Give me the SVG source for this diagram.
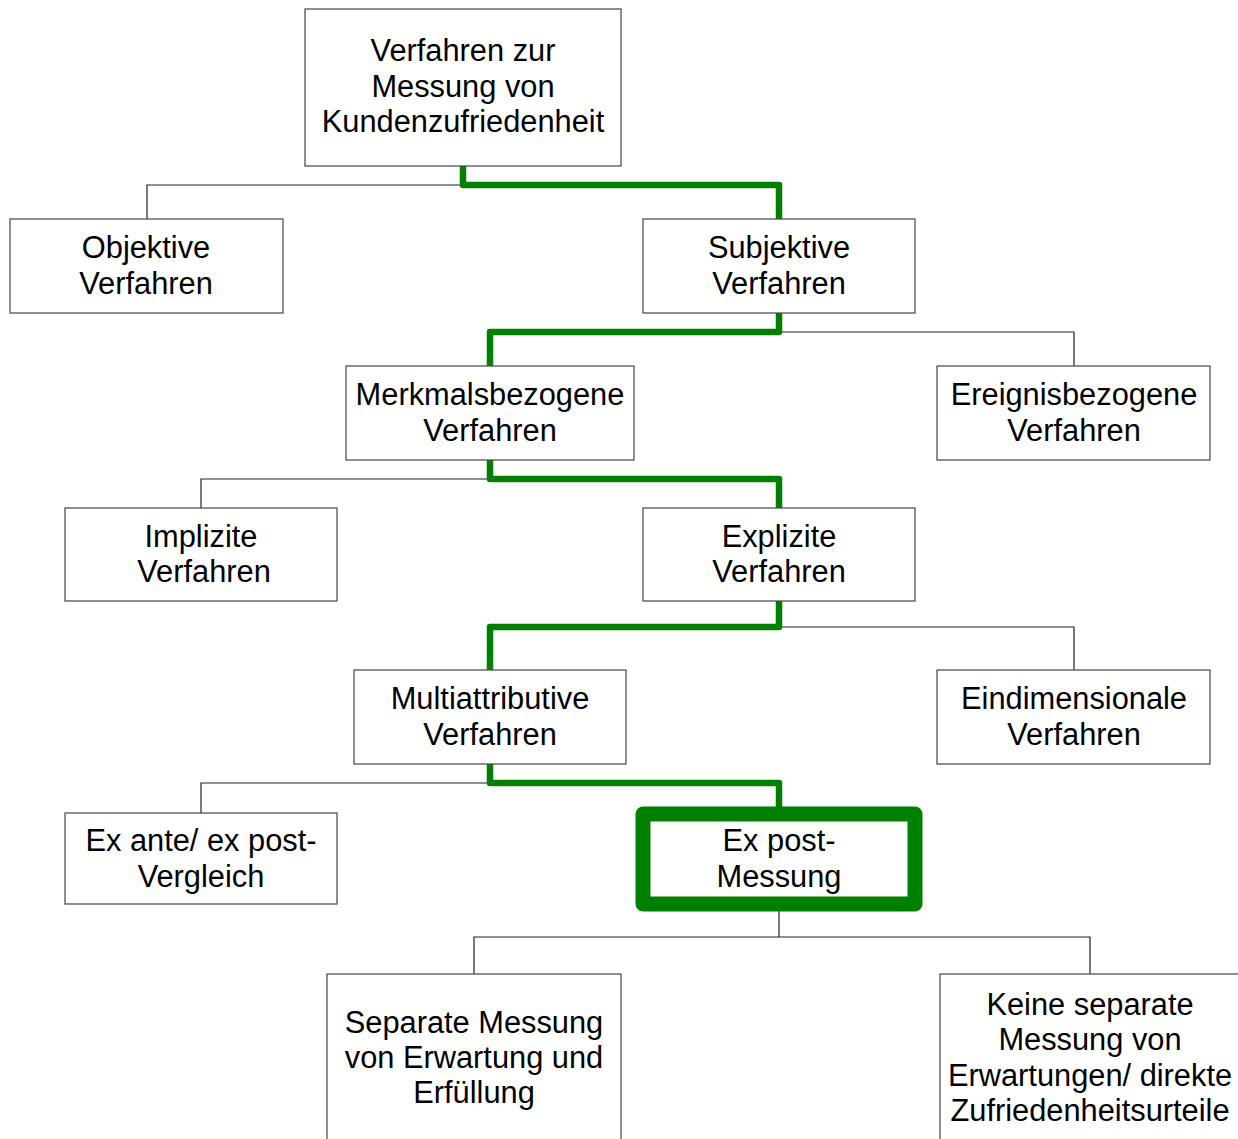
<svg xmlns="http://www.w3.org/2000/svg" width="1238" height="1139" viewBox="0 0 1238 1139">
<style>
.box{fill:#fff;stroke:#444;stroke-width:1.2}
.hl{fill:#fff;stroke:#008000;stroke-width:15;stroke-linejoin:round}
text{font-family:"Liberation Sans",Arial,sans-serif;font-size:30.8px;fill:#000;text-anchor:middle}
.thin{fill:none;stroke:#222;stroke-width:1.2}
.green{fill:none;stroke:#008000;stroke-width:6.5;stroke-linecap:round;stroke-linejoin:round}
</style>
<rect width="1238" height="1139" fill="#fff"/>
<g id="connectors">
<path class="thin" d="M147,219V185H463M779,332H1074V366M201,508V479H490M779,627H1074V670M201,813V783H490M779,904V937M474,974V937H1090V974"/>
<path class="green" d="M463,166V185H779V219"/>
<path class="green" d="M779,313V332H490V366"/>
<path class="green" d="M490,460V479H779V508"/>
<path class="green" d="M779,601V627H490V670"/>
<path class="green" d="M490,764V783H779V809"/>
</g>
<g id="n-root"><rect class="box" x="305" y="9" width="316" height="157"/><text x="463" y="61">Verfahren zur</text><text x="463" y="97">Messung von</text><text x="463" y="132">Kundenzufriedenheit</text></g>
<g id="n-objektiv"><rect class="box" x="10" y="219" width="273" height="94"/><text x="146" y="258">Objektive</text><text x="146" y="294">Verfahren</text></g>
<g id="n-subjektiv"><rect class="box" x="643" y="219" width="272" height="94"/><text x="779" y="258">Subjektive</text><text x="779" y="294">Verfahren</text></g>
<g id="n-merkmal"><rect class="box" x="346" y="366" width="288" height="94"/><text x="490" y="405">Merkmalsbezogene</text><text x="490" y="441">Verfahren</text></g>
<g id="n-ereignis"><rect class="box" x="937" y="366" width="273" height="94"/><text x="1074" y="405">Ereignisbezogene</text><text x="1074" y="441">Verfahren</text></g>
<g id="n-implizit"><rect class="box" x="65" y="508" width="272" height="93"/><text x="201" y="547">Implizite</text><text x="204" y="582">Verfahren</text></g>
<g id="n-explizit"><rect class="box" x="643" y="508" width="272" height="93"/><text x="779" y="547">Explizite</text><text x="779" y="582">Verfahren</text></g>
<g id="n-multi"><rect class="box" x="354" y="670" width="272" height="94"/><text x="490" y="709">Multiattributive</text><text x="490" y="745">Verfahren</text></g>
<g id="n-eindim"><rect class="box" x="937" y="670" width="273" height="94"/><text x="1074" y="709">Eindimensionale</text><text x="1074" y="745">Verfahren</text></g>
<g id="n-exante"><rect class="box" x="65" y="813" width="272" height="91"/><text x="201" y="851">Ex ante/ ex post-</text><text x="201" y="887">Vergleich</text></g>
<g id="n-expost"><rect class="hl" x="643" y="814" width="272" height="90"/><text x="779" y="851">Ex post-</text><text x="779" y="887">Messung</text></g>
<g id="n-separat"><rect class="box" x="327" y="974" width="294" height="180"/><text x="474" y="1033">Separate Messung</text><text x="474" y="1068">von Erwartung und</text><text x="474" y="1103">Erfüllung</text></g>
<g id="n-keine"><rect class="box" x="940" y="974" width="320" height="180"/><text x="1090" y="1015">Keine separate</text><text x="1090" y="1050">Messung von</text><text x="1090" y="1086">Erwartungen/ direkte</text><text x="1090" y="1121">Zufriedenheitsurteile</text></g>
</svg>
